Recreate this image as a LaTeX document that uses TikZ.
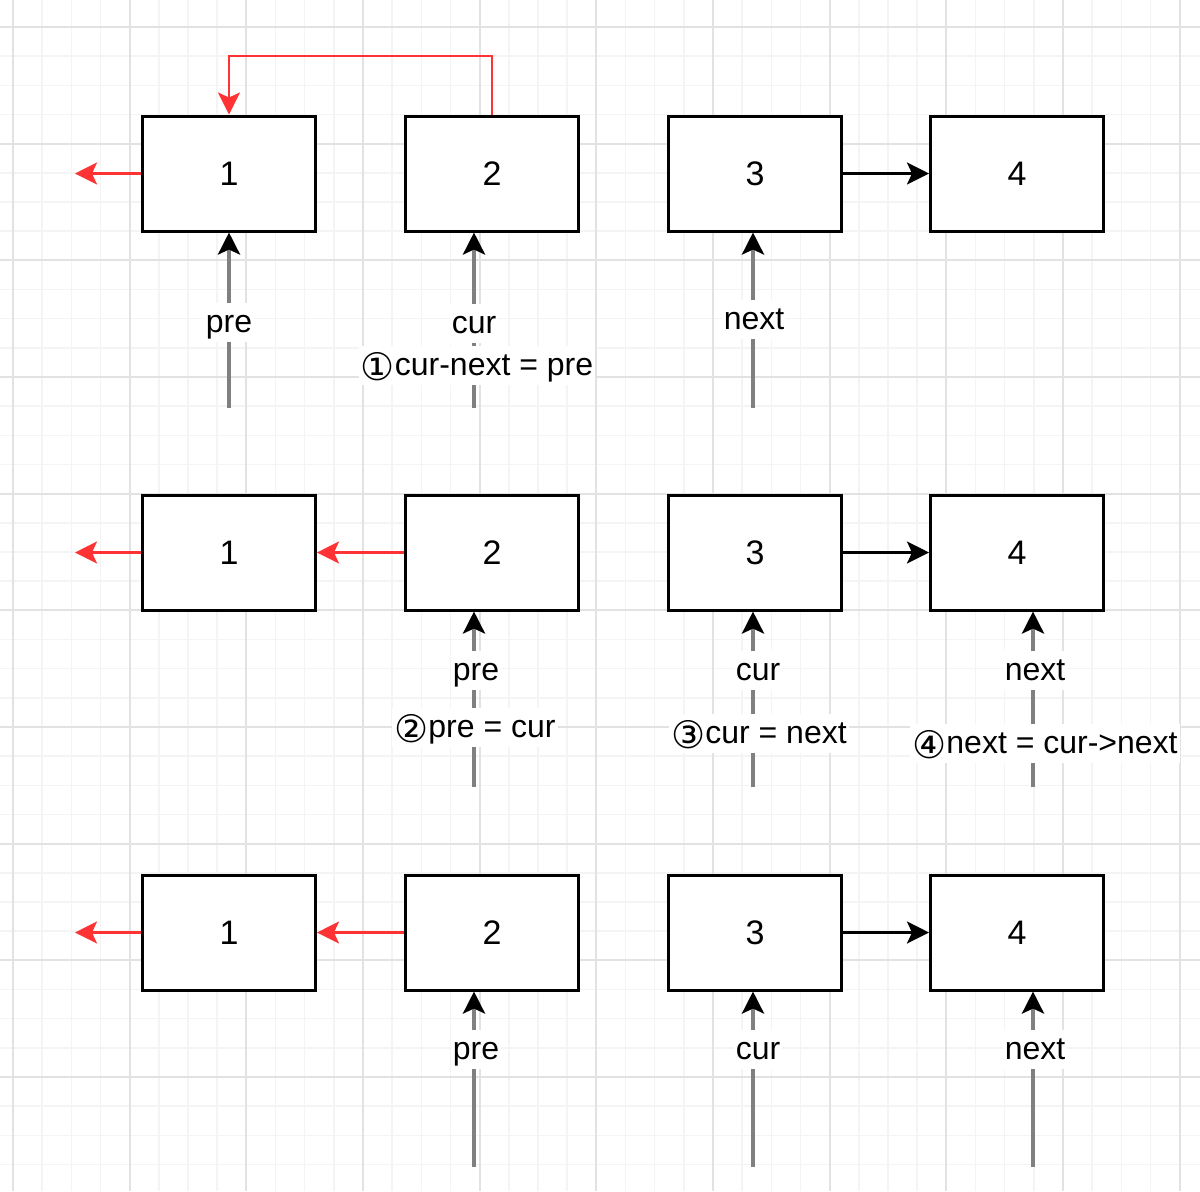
\documentclass[tikz,border=0pt]{standalone}
\usepackage{fontspec}
\setmainfont{Liberation Sans}
\newfontfamily\circfont{DejaVu Sans}
\usetikzlibrary{arrows.meta}
\definecolor{myred}{RGB}{255,51,51}
\definecolor{majgrid}{RGB}{226,226,226}
\definecolor{mingrid}{RGB}{244,244,244}
\definecolor{shaftgray}{RGB}{128,128,128}
\tikzset{
 listbox/.style={draw=black, line width=1.5pt, fill=white, minimum width=86.5pt, minimum height=57.5pt, font=\fontsize{17}{20}\selectfont, inner sep=0pt},
 redarr/.style={draw=myred, line width=1.3pt, -{Stealth[length=11pt,width=11pt,inset=2.5pt,color=myred]}},
 blkarr/.style={draw=black, line width=1.4pt, -{Stealth[length=11pt,width=11pt,inset=2.5pt]}},
 ptrarr/.style={draw=shaftgray, line width=2pt, -{Stealth[length=11pt,width=11pt,inset=2.5pt,color=black]}},
 lbl/.style={fill=white, anchor=base, font=\fontsize{16}{19}\selectfont, text height=14.5pt, text depth=5pt, inner xsep=1pt, inner ysep=0pt},
}
\newcommand{\cnum}[1]{\raisebox{-2.5pt}{\fontsize{19}{19}\circfont #1}}
\begin{document}
\begin{tikzpicture}[x=0.5pt, y=-0.5pt]
\useasboundingbox (0,0) rectangle (1200,1191);
\fill[white] (0,0) rectangle (1200,1191);
\begin{scope}
\clip (0,0) rectangle (1200,1191);
\foreach \i in {0,...,40} { \draw[mingrid, line width=0.7pt] (13+29.1667*\i,0) -- (13+29.1667*\i,1191); }
\foreach \i in {0,...,39} { \draw[mingrid, line width=0.7pt] (0,27+29.1667*\i) -- (1200,27+29.1667*\i); }
\foreach \i in {0,...,10} { \draw[majgrid, line width=1pt] (13+116.667*\i,0) -- (13+116.667*\i,1191); }
\foreach \i in {0,...,9} { \draw[majgrid, line width=1pt] (0,27+116.667*\i) -- (1200,27+116.667*\i); }
\end{scope}

% boxes
\node[listbox] (b11) at (229,173.5) {1};
\node[listbox] (b12) at (492,173.5) {2};
\node[listbox] (b13) at (755,173.5) {3};
\node[listbox] (b14) at (1017,173.5) {4};
\node[listbox] (b21) at (229,552.5) {1};
\node[listbox] (b22) at (492,552.5) {2};
\node[listbox] (b23) at (755,552.5) {3};
\node[listbox] (b24) at (1017,552.5) {4};
\node[listbox] (b31) at (229,932.5) {1};
\node[listbox] (b32) at (492,932.5) {2};
\node[listbox] (b33) at (755,932.5) {3};
\node[listbox] (b34) at (1017,932.5) {4};

% free ends
\coordinate (r1) at (75,173.5);
\coordinate (r2) at (75,552.5);
\coordinate (r3) at (75,932.5);
\coordinate (looptop) at (360,56);

% red arrows
\draw[redarr] (b11.west) -- (r1);
\draw[redarr] (b12.north) |- (looptop) -| (b11.north);
\draw[redarr] (b21.west) -- (r2);
\draw[redarr] (b22.west) -- (b21.east);
\draw[redarr] (b31.west) -- (r3);
\draw[redarr] (b32.west) -- (b31.east);

% black arrows
\draw[blkarr] (b13.east) -- (b14.west);
\draw[blkarr] (b23.east) -- (b24.west);
\draw[blkarr] (b33.east) -- (b34.west);

% pointer arrows
\coordinate (p11) at (229,408);
\coordinate (p12) at (474,408);
\coordinate (p13) at (753,408);
\coordinate (p22) at (474,787);
\coordinate (p23) at (753,787);
\coordinate (p24) at (1033,787);
\coordinate (p32) at (474,1167);
\coordinate (p33) at (753,1167);
\coordinate (p34) at (1033,1167);
\draw[ptrarr] (p11) -- (p11 |- b11.south);
\draw[ptrarr] (p12) -- (p12 |- b12.south);
\draw[ptrarr] (p13) -- (p13 |- b13.south);
\draw[ptrarr] (p22) -- (p22 |- b22.south);
\draw[ptrarr] (p23) -- (p23 |- b23.south);
\draw[ptrarr] (p24) -- (p24 |- b24.south);
\draw[ptrarr] (p32) -- (p32 |- b32.south);
\draw[ptrarr] (p33) -- (p33 |- b33.south);
\draw[ptrarr] (p34) -- (p34 |- b34.south);

% labels
\node[lbl] (l11) at (229,332) {pre};
\node[lbl] (l12) at (474,333) {cur};
\node[lbl] (l12b) at (477,375) {\cnum{①}cur-next = pre};
\node[lbl] (l13) at (754,329) {next};
\node[lbl] (l22) at (476,680) {pre};
\node[lbl] (l22b) at (475,737) {\cnum{②}pre = cur};
\node[lbl] (l23) at (758,680) {cur};
\node[lbl] (l23b) at (759,743) {\cnum{③}cur = next};
\node[lbl] (l24) at (1035,680) {next};
\node[lbl] (l24b) at (1045,753) {\cnum{④}next = cur->next};
\node[lbl] (l32) at (476,1059) {pre};
\node[lbl] (l33) at (758,1059) {cur};
\node[lbl] (l34) at (1035,1059) {next};
\end{tikzpicture}
\end{document}
